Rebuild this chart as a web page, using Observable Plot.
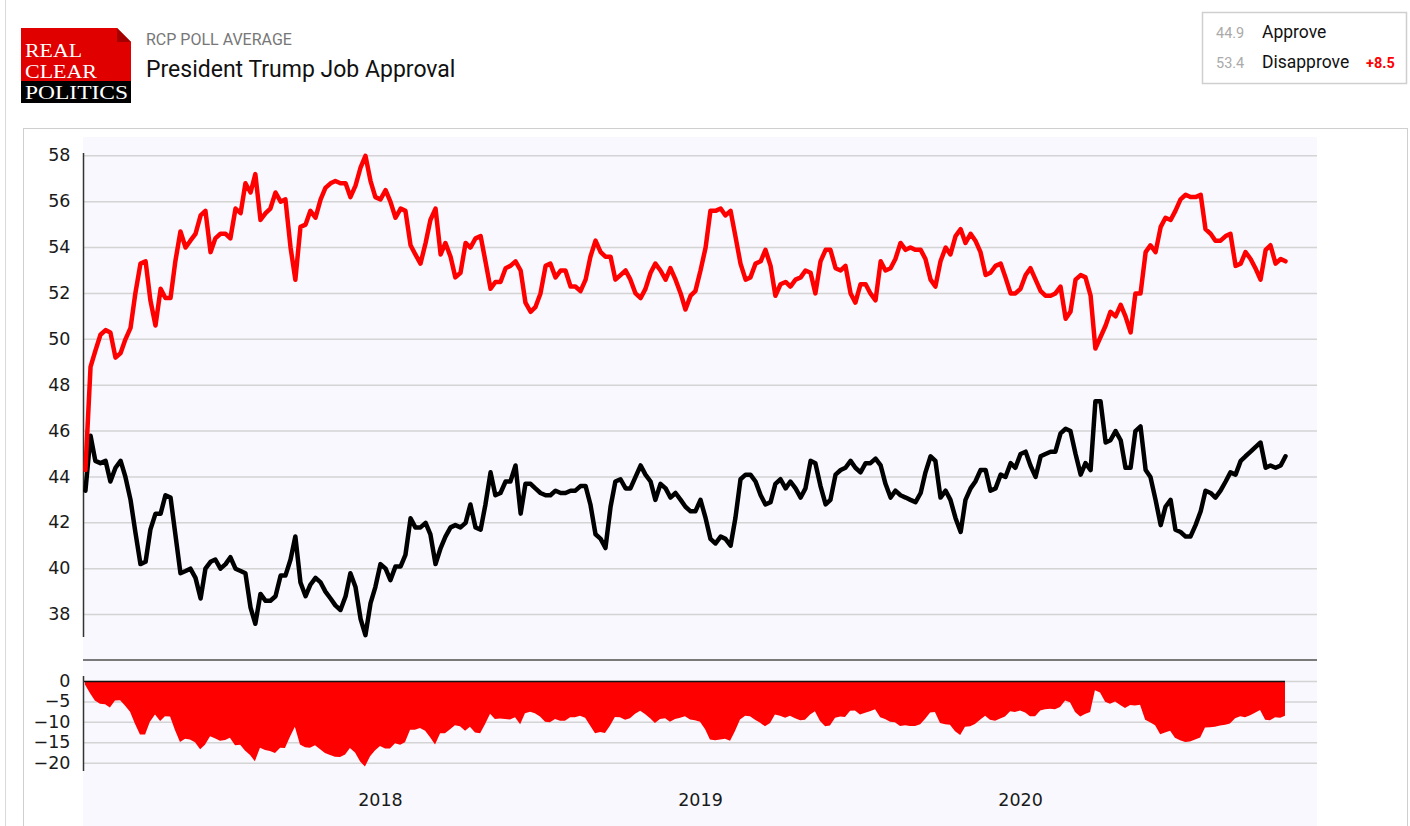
<!DOCTYPE html>
<html><head><meta charset="utf-8">
<script src="https://cdn.jsdelivr.net/npm/d3@7"></script>
<script src="https://cdn.jsdelivr.net/npm/@observablehq/plot@0.6"></script>
<style>
html,body{margin:0;padding:0;background:#fff;}
#page{position:relative;width:1410px;height:826px;overflow:hidden;background:#fff;font-family:Roboto,sans-serif;}
.abs{position:absolute;}
</style></head><body>
<div id="page">
  <div class="abs" style="left:5px;top:0;width:1px;height:826px;background:#d9d9d9"></div>
  <svg class="abs" id="header" width="1410" height="128" style="left:0;top:0;font-family:Roboto,sans-serif">
    <g transform="translate(21,28)">
      <rect width="110" height="53" fill="#e10000"/>
      <polygon points="96,0 110,0 110,14" fill="#fff"/>
      <polygon points="96,0 110,14 96,14" fill="#a30000"/>
      <rect y="53" width="110" height="22" fill="#000"/>
      <text x="4" y="29" font-family="'Liberation Serif',serif" font-size="19" fill="#fff" textLength="57" lengthAdjust="spacingAndGlyphs">REAL</text>
      <text x="4" y="50" font-family="'Liberation Serif',serif" font-size="19" fill="#fff" textLength="72" lengthAdjust="spacingAndGlyphs">CLEAR</text>
      <text x="4" y="71" font-family="'Liberation Serif',serif" font-size="19" fill="#fff" textLength="103" lengthAdjust="spacingAndGlyphs">POLITICS</text>
    </g>
    <text x="146" y="44.5" font-size="16" fill="#777">RCP POLL AVERAGE</text>
    <text x="146" y="77.3" font-size="23" fill="#111">President Trump Job Approval</text>
    <rect x="1202.5" y="12.5" width="204" height="71" fill="#fff" stroke="#cfcfcf" stroke-width="1.5"/>
    <text id="lgA" x="1216" y="38.3" font-size="14.5" fill="#aaa"></text>
    <text x="1262" y="38.3" font-size="17.5" fill="#111">Approve</text>
    <text id="lgD" x="1216" y="68.3" font-size="14.5" fill="#aaa"></text>
    <text x="1262" y="68.3" font-size="17.5" fill="#111">Disapprove</text>
    <text id="lgS" x="1366" y="68.3" font-size="14.5" font-weight="bold" fill="#ff0000"></text>
  </svg>
  <div class="abs" style="left:23px;top:128px;width:1383px;height:760px;border:1px solid #cfcfcf;"></div>
  <div class="abs" style="left:83px;top:137px;width:1234px;height:700px;background:#f8f8fe"></div>
  <div id="main" class="abs" style="left:0;top:137px"></div>
  <div class="abs" style="left:83px;top:659px;width:1234px;height:1.5px;background:#7a7a7a"></div>
  <div id="spread" class="abs" style="left:0;top:660px"></div>
</div>
<script>
// time as decimal year
const yearFrac = [
2017.078,2017.094,2017.109,2017.125,2017.141,2017.156,2017.172,2017.188,2017.203,2017.219,
2017.234,2017.250,2017.266,2017.281,2017.297,2017.313,2017.328,2017.344,2017.359,2017.375,
2017.391,2017.406,2017.422,2017.438,2017.453,2017.469,2017.484,2017.500,2017.516,2017.531,
2017.547,2017.563,2017.578,2017.594,2017.609,2017.625,2017.641,2017.656,2017.672,2017.688,
2017.703,2017.719,2017.734,2017.750,2017.766,2017.781,2017.797,2017.813,2017.828,2017.844,
2017.859,2017.875,2017.891,2017.906,2017.922,2017.938,2017.953,2017.969,2017.984,
2018.000,2018.016,2018.031,2018.047,2018.063,2018.078,2018.094,2018.109,2018.125,2018.141,
2018.156,2018.172,2018.188,2018.203,2018.219,2018.234,2018.250,2018.266,2018.281,2018.297,
2018.313,2018.328,2018.344,2018.359,2018.375,2018.391,2018.406,2018.422,2018.438,2018.453,
2018.469,2018.484,2018.500,2018.516,2018.531,2018.547,2018.563,2018.578,2018.594,2018.609,
2018.625,2018.641,2018.656,2018.672,2018.688,2018.703,2018.719,2018.734,2018.750,2018.766,
2018.781,2018.797,2018.813,2018.828,2018.844,2018.859,2018.875,2018.891,2018.906,2018.922,
2018.938,2018.953,2018.969,2018.984,
2019.000,2019.016,2019.031,2019.047,2019.063,2019.078,2019.094,2019.109,2019.125,2019.141,
2019.156,2019.172,2019.188,2019.203,2019.219,2019.234,2019.250,2019.266,2019.281,2019.297,
2019.313,2019.328,2019.344,2019.359,2019.375,2019.391,2019.406,2019.422,2019.438,2019.453,
2019.469,2019.484,2019.500,2019.516,2019.531,2019.547,2019.563,2019.578,2019.594,2019.609,
2019.625,2019.641,2019.656,2019.672,2019.688,2019.703,2019.719,2019.734,2019.750,2019.766,
2019.781,2019.797,2019.813,2019.828,2019.844,2019.859,2019.875,2019.891,2019.906,2019.922,
2019.938,2019.953,2019.969,2019.984,
2020.000,2020.016,2020.031,2020.047,2020.063,2020.078,2020.094,2020.109,2020.125,2020.141,
2020.156,2020.172,2020.188,2020.203,2020.219,2020.234,2020.250,2020.266,2020.281,2020.297,
2020.313,2020.328,2020.344,2020.359,2020.375,2020.391,2020.406,2020.422,2020.438,2020.453,
2020.469,2020.484,2020.500,2020.516,2020.531,2020.547,2020.563,2020.578,2020.594,2020.609,
2020.625,2020.641,2020.656,2020.672,2020.688,2020.703,2020.719,2020.734,2020.750,2020.766,
2020.781,2020.797,2020.813,2020.828
];
const approve = [
43.4,45.8,44.7,44.6,44.7,43.8,44.4,44.7,44.0,43.0,
41.6,40.2,40.3,41.7,42.4,42.4,43.2,43.1,41.5,39.8,
39.9,40.0,39.6,38.7,40.0,40.3,40.4,40.0,40.2,40.5,
40.0,39.9,39.8,38.3,37.6,38.9,38.6,38.6,38.8,39.7,
39.7,40.4,41.4,39.4,38.8,39.3,39.6,39.4,39.0,38.7,
38.4,38.2,38.8,39.8,39.2,37.8,37.1,38.5,39.2,
40.2,40.0,39.5,40.1,40.1,40.6,42.2,41.8,41.8,42.0,
41.5,40.2,40.9,41.4,41.8,41.9,41.8,42.0,42.8,41.8,
41.7,42.8,44.2,43.2,43.3,43.8,43.8,44.5,42.4,43.7,
43.7,43.5,43.3,43.2,43.2,43.4,43.3,43.3,43.4,43.4,
43.6,43.6,42.8,41.5,41.3,40.9,42.7,43.8,43.9,43.5,
43.5,44.0,44.5,44.1,43.8,43.0,43.7,43.5,43.1,43.3,
43.0,42.7,42.5,42.5,
43.0,42.2,41.3,41.1,41.4,41.3,41.0,42.2,43.9,44.1,
44.1,43.8,43.2,42.8,42.9,43.7,43.9,43.5,43.8,43.5,
43.1,43.5,44.7,44.6,43.6,42.8,43.0,44.1,44.3,44.4,
44.7,44.4,44.2,44.6,44.6,44.8,44.5,43.7,43.1,43.4,
43.2,43.1,43.0,42.9,43.3,44.2,44.9,44.7,43.1,43.4,
43.0,42.2,41.6,43.0,43.5,43.8,44.3,44.3,43.4,43.5,
44.1,44.0,44.6,44.4,
45.0,45.1,44.5,44.0,44.9,45.0,45.1,45.1,45.9,46.1,
46.0,45.0,44.1,44.6,44.3,47.3,47.3,45.5,45.6,46.0,
45.6,44.4,44.4,46.0,46.2,44.3,44.0,43.0,41.9,42.7,
43.0,41.7,41.6,41.4,41.4,41.9,42.5,43.4,43.3,43.1,
43.4,43.8,44.2,44.1,44.7,44.9,45.1,45.3,45.5,44.4,
44.5,44.4,44.5,44.9
];
const disapprove = [
44.3,48.8,49.5,50.2,50.4,50.3,49.2,49.4,50.0,50.5,
52.0,53.3,53.4,51.7,50.6,52.2,51.8,51.8,53.4,54.7,
54.0,54.3,54.6,55.4,55.6,53.8,54.4,54.6,54.6,54.4,
55.7,55.5,56.8,56.4,57.2,55.2,55.5,55.7,56.4,56.0,
56.1,54.0,52.6,54.9,55.0,55.6,55.3,56.1,56.6,56.8,
56.9,56.8,56.8,56.2,56.7,57.5,58.0,56.9,56.2,
56.1,56.5,56.0,55.3,55.7,55.6,54.1,53.7,53.3,54.2,
55.2,55.7,53.7,54.2,53.6,52.7,52.9,54.2,54.0,54.4,
54.5,53.4,52.2,52.5,52.5,53.1,53.2,53.4,53.0,51.6,
51.2,51.4,52.0,53.2,53.3,52.7,53.0,53.0,52.3,52.3,
52.1,52.6,53.6,54.3,53.8,53.6,53.6,52.6,52.8,53.0,
52.6,52.0,51.8,52.2,52.9,53.3,53.0,52.6,53.1,52.6,
52.0,51.3,51.9,52.1,
53.0,54.0,55.6,55.6,55.7,55.4,55.6,54.5,53.3,52.6,
52.7,53.3,53.4,53.9,53.2,51.9,52.4,52.5,52.3,52.6,
52.7,53.0,52.9,52.0,53.4,53.9,53.9,53.1,53.0,53.2,
52.0,51.6,52.4,52.4,52.0,51.7,53.4,53.0,53.1,53.5,
54.2,53.9,54.0,53.9,53.9,53.5,52.6,52.3,53.4,54.0,
53.7,54.5,54.8,54.2,54.6,54.3,53.8,52.8,52.9,53.2,
53.3,52.7,52.0,52.0,
52.2,52.8,53.1,52.6,52.1,51.9,51.9,52.0,52.3,50.9,
51.2,52.6,52.8,52.7,51.9,49.6,50.1,50.6,51.2,51.0,
51.5,51.0,50.3,52.0,52.0,53.8,54.1,53.8,54.9,55.3,
55.2,55.6,56.1,56.3,56.2,56.2,56.3,54.8,54.6,54.3,
54.3,54.5,54.6,53.2,53.3,53.8,53.5,53.1,52.6,53.9,
54.1,53.3,53.5,53.4
];
const yTicks = [38, 40, 42, 44, 46, 48, 50, 52, 54, 56, 58];
const spreadTicks = [0, -5, -10, -15, -20];
const xTickYears = [2018, 2019, 2020];
const xDomain = [2017.072, 2020.928];
const yDomain = [37, 58.1];
const spreadDomain = [-22, 1.2];

const data = yearFrac.map((t, i) => ({t, approve: approve[i], disapprove: disapprove[i], spread: approve[i] - disapprove[i]}));

const lastA = approve[approve.length - 1], lastD = disapprove[disapprove.length - 1];
document.getElementById("lgA").textContent = lastA.toFixed(1);
document.getElementById("lgD").textContent = lastD.toFixed(1);
document.getElementById("lgS").textContent = "+" + (lastD - lastA).toFixed(1);

const style = {background: "transparent", fontFamily: "'DejaVu Sans', sans-serif", fontSize: "17.5px", color: "#1a1a1a", overflow: "visible"};

const mainPlot = Plot.plot({
  width: 1410, height: 523,
  marginLeft: 83, marginRight: 93, marginTop: 16, marginBottom: 23,
  style,
  x: {type: "linear", domain: xDomain, axis: null},
  y: {domain: yDomain},
  marks: [
    Plot.gridY(yTicks, {stroke: "#d4d4d4", strokeOpacity: 1, strokeWidth: 1.5}),
    Plot.ruleX([xDomain[0]], {y1: yDomain[0], y2: yDomain[1], stroke: "#333", strokeWidth: 1.5}),
    Plot.axisY(yTicks, {tickSize: 0, tickPadding: 13, label: null}),
    Plot.line(data, {x: "t", y: "approve", stroke: "#000", strokeWidth: 4.5, strokeLinejoin: "round"}),
    Plot.line(data, {x: "t", y: "disapprove", stroke: "#ff0000", strokeWidth: 4.5, strokeLinejoin: "round"})
  ]
});
document.getElementById("main").appendChild(mainPlot);

const spreadPlot = Plot.plot({
  width: 1410, height: 166,
  marginLeft: 83, marginRight: 93, marginTop: 16, marginBottom: 55,
  style,
  x: {type: "linear", domain: xDomain},
  y: {domain: spreadDomain},
  marks: [
    Plot.gridY(spreadTicks, {stroke: "#d4d4d4", strokeOpacity: 1, strokeWidth: 1.5}),
    Plot.areaY(data, {x: "t", y: "spread", fill: "#ff0000"}),
    Plot.ruleY([0], {x1: xDomain[0], x2: yearFrac[yearFrac.length - 1], stroke: "#111", strokeWidth: 1.5}),
    Plot.ruleX([xDomain[0]], {y1: spreadDomain[0], y2: spreadDomain[1], stroke: "#333", strokeWidth: 1.5}),
    Plot.axisY(spreadTicks, {tickSize: 0, tickPadding: 13, label: null}),
    Plot.axisX(xTickYears, {tickSize: 0, tickPadding: 22, tickFormat: d => String(d), label: null})
  ]
});
document.getElementById("spread").appendChild(spreadPlot);
</script>
</body></html>
